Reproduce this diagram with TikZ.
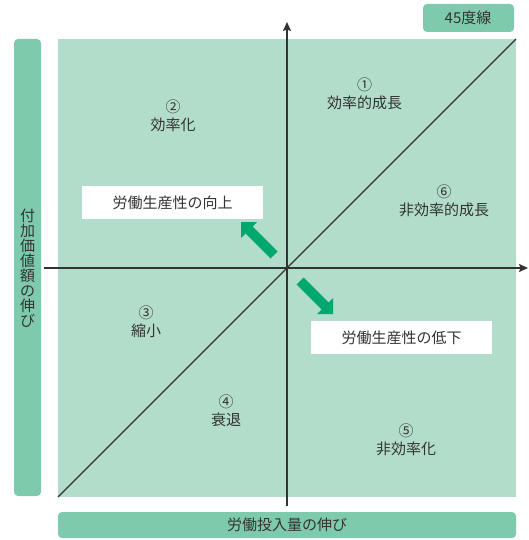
\documentclass[tikz,border=0pt]{standalone}
\usepackage{fontspec}
\newfontfamily\cjk{Noto Sans CJK JP}
\usetikzlibrary{arrows.meta}
\definecolor{bgg}{HTML}{B2DDCB}
\definecolor{lblg}{HTML}{7ECAAD}
\definecolor{arrg}{HTML}{00A870}
\definecolor{txt}{HTML}{333333}
\begin{document}
\begin{tikzpicture}[x=1pt,y=-1pt,
  every node/.style={text=txt, font=\cjk\fontsize{15}{18}\selectfont, inner sep=0pt},
  quad/.style={align=center},
  whitebox/.style={fill=white, minimum width=181pt, minimum height=33pt},
  axis/.style={draw=txt, line width=1.4pt},
  bigarrow/.style={fill=arrg}]
\useasboundingbox (0,0) rectangle (528,540);
% background
\fill[bgg] (58,39) rectangle (516,497);
% label boxes
\fill[lblg, rounded corners=4pt] (14,39) rectangle (41,496);
\fill[lblg, rounded corners=4pt] (58,512) rectangle (516,538);
\fill[lblg, rounded corners=4pt] (423,4) rectangle (514,32);
\node (ylab) [align=center, font=\cjk\fontsize{15}{15}\selectfont] at (27.5,268) {付\\加\\価\\値\\額\\の\\伸\\び};
\node (xlab) at (287,525) {労働投入量の伸び};
\node (dlab) at (468,18) {45度線};
% diagonal
\coordinate (dA) at (58,497);
\coordinate (dB) at (516,39);
\draw[draw=txt, line width=1.1pt] (dA) -- (dB);
% axes
\coordinate (xL) at (44,268);
\coordinate (xR) at (528,268);
\coordinate (yB) at (287,506);
\coordinate (yT) at (287,22);
\draw[axis, -{Stealth[length=9pt,width=8pt,inset=1.5pt]}] (xL) -- (xR);
\draw[axis, -{Stealth[length=9pt,width=8pt,inset=1.5pt]}] (yB) -- (yT);
% quadrant labels
\node (q1) [quad] at (364.5,93.5) {①\\効率的成長};
\node (q2) [quad] at (173,116) {②\\効率化};
\node (q3) [quad] at (146,322) {③\\縮小};
\node (q4) [quad] at (226,411) {④\\衰退};
\node (q5) [quad] at (406,440) {⑤\\非効率化};
\node (q6) [quad] at (444,200.5) {⑥\\非効率的成長};
% white boxes
\node (up) [whitebox] at (172.5,202.5) {労働生産性の向上};
\node (down) [whitebox] at (401.5,337.5) {労働生産性の低下};
% big arrows
\fill[bigarrow] (241,222) -- (257,222) -- (252.5,226.5) -- (277.5,251.5) -- (270.5,258.5) -- (245.5,233.5) -- (241,238) -- cycle;
\fill[bigarrow] (333,314) -- (317,314) -- (321.5,309.5) -- (296.5,284.5) -- (303.5,277.5) -- (328.5,302.5) -- (333,298) -- cycle;
\end{tikzpicture}
\end{document}
